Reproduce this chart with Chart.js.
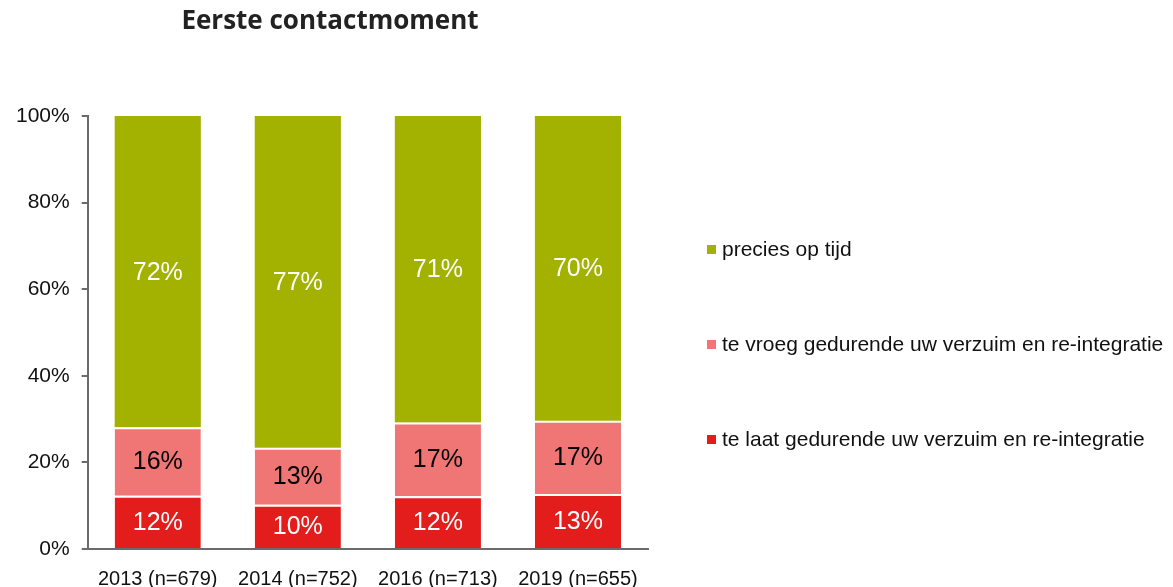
<!DOCTYPE html>
<html>
<head>
<meta charset="utf-8">
<script src="https://cdn.jsdelivr.net/npm/chart.js@4/dist/chart.umd.min.js"></script>
<style>
  html, body { margin: 0; padding: 0; background: #fff; overflow: hidden; }
  #wrap { position: relative; width: 1173px; height: 587px; overflow: hidden; }
  #title {
    position: absolute; left: 0; width: 660px; top: 1px; text-align: center;
    font: bold 26px "Open Sans", "Liberation Sans", sans-serif; color: #222;
  }
  #legend { position: absolute; left: 707px; top: 0; }
  .lg-item {
    position: absolute; white-space: nowrap; display: flex; align-items: center;
    font: 21px "Liberation Sans", Arial, sans-serif; color: #111;
  }
  .lg-box { width: 9px; height: 9px; margin-right: 6px; }
  canvas { position: absolute; left: 0; top: 0; }
</style>
</head>
<body>
<div id="wrap">
  <canvas id="chart" width="1173" height="605"></canvas>
  <div id="title">Eerste contactmoment</div>
  <div id="legend"></div>
</div>
<script>
// ── data ────────────────────────────────────────────────────
const categories = ['2013 (n=679)', '2014 (n=752)', '2016 (n=713)', '2019 (n=655)'];
const teLaat    = [12.3, 10.2, 12.2, 12.7];   // te laat gedurende uw verzuim en re-integratie
const teVroeg   = [15.8, 13.2, 17.0, 16.9];   // te vroeg gedurende uw verzuim en re-integratie
const opTijd    = [71.9, 76.6, 70.8, 70.4];   // precies op tijd
const yTicks    = [0, 20, 40, 60, 80, 100];

const seriesNames  = ['te laat gedurende uw verzuim en re-integratie', 'te vroeg gedurende uw verzuim en re-integratie', 'precies op tijd'];
const seriesColors = ['#e21d1b', '#f07575', '#a3b100'];
const labelColors  = ['#ffffff', '#000000', '#ffffff'];

// ── value labels inside segments ───────────────────────────
const segmentLabels = {
  id: 'segmentLabels',
  afterDatasetsDraw(chart) {
    const ctx = chart.ctx;
    ctx.save();
    ctx.font = '25px "Liberation Sans", Arial, sans-serif';
    ctx.textAlign = 'center';
    ctx.textBaseline = 'middle';
    chart.data.datasets.forEach((ds, i) => {
      chart.getDatasetMeta(i).data.forEach((bar, j) => {
        const { x, y, base } = bar.getProps(['x', 'y', 'base'], true);
        ctx.fillStyle = labelColors[i];
        ctx.fillText(Math.round(ds.data[j]) + '%', x, (y + base) / 2 + 1);
      });
    });
    ctx.restore();
  }
};

const datasets = [teLaat, teVroeg, opTijd].map((d, i) => ({
  label: seriesNames[i],
  data: d,
  backgroundColor: seriesColors[i],
  borderColor: '#ffffff',
  borderWidth: i === 2 ? 0 : { top: 2, left: 0, right: 0, bottom: 0 },
  borderSkipped: 'start',
  barPercentage: 0.615,
  categoryPercentage: 1,
}));

new Chart(document.getElementById('chart'), {
  type: 'bar',
  data: { labels: categories, datasets },
  options: {
    responsive: false,
    animation: false,
    layout: { padding: { top: 116, right: 525, left: 4, bottom: 4 } },
    plugins: { legend: { display: false }, title: { display: false }, tooltip: { enabled: false } },
    scales: {
      x: {
        stacked: true,
        grid: { display: false },
        border: { color: '#6b6b6b', width: 2 },
        ticks: { color: '#111', font: { size: 20, family: '"Liberation Sans", Arial, sans-serif' }, padding: 10, maxRotation: 0 },
      },
      y: {
        stacked: true,
        min: 0, max: 100,
        afterBuildTicks: s => { s.ticks = yTicks.map(v => ({ value: v })); },
        grid: { drawOnChartArea: false, tickLength: 6, color: '#6b6b6b', lineWidth: 2 },
        border: { color: '#6b6b6b', width: 2 },
        ticks: { color: '#111', font: { size: 21, family: '"Liberation Sans", Arial, sans-serif' }, padding: 12, callback: v => v + '%' },
      },
    },
  },
  plugins: [segmentLabels],
});

// ── legend (top item = last dataset) ────────────────────────
const legendEl = document.getElementById('legend');
const legendY = [249, 344, 439];
[2, 1, 0].forEach((idx, k) => {
  const item = document.createElement('div');
  item.className = 'lg-item';
  item.style.top = (legendY[k] - 12) + 'px';
  item.innerHTML = `<span class="lg-box" style="background:${seriesColors[idx]}"></span><span>${seriesNames[idx]}</span>`;
  legendEl.appendChild(item);
});
</script>
</body>
</html>
